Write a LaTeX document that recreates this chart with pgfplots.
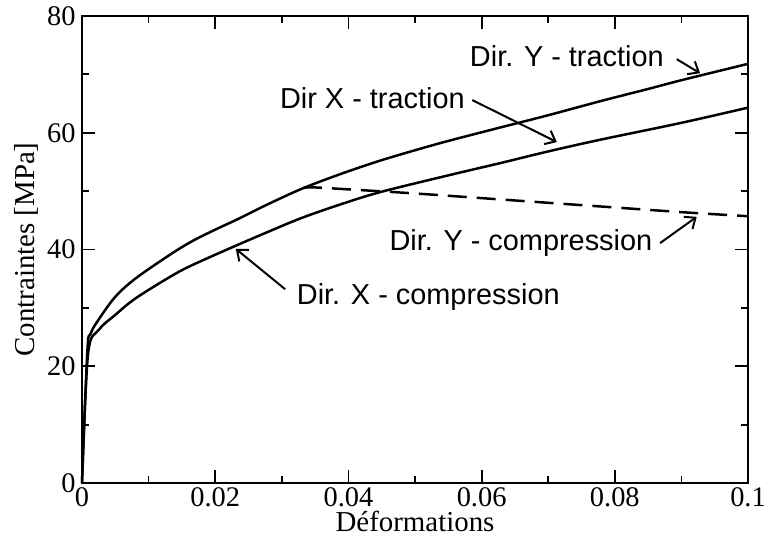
\documentclass[border=0pt]{standalone}
\usepackage{pgfplots}
\pgfplotsset{compat=1.18}
\usepackage{fontspec}
\setmainfont{Liberation Serif}
\newfontfamily\annfont{Liberation Sans}
\usetikzlibrary{arrows.meta}
\begin{document}
\begin{tikzpicture}
\useasboundingbox (-82bp,-61bp) rectangle (686bp,483bp);
\begin{axis}[
  at={(0,0)}, anchor=south west,
  scale only axis, width=666bp, height=467bp,
  xmin=0, xmax=0.1, ymin=0, ymax=80,
  xtick={0,0.02,0.04,0.06,0.08,0.1},
  xticklabels={0,0.02,0.04,0.06,0.08,0.1},
  ytick={0,20,40,60,80},
  minor x tick num=1, minor y tick num=1,
  tick pos=both, tick align=inside,
  major tick length=13bp, minor tick length=7bp,
  every tick/.style={line width=1.8pt, black},
  axis line style={line width=2.2pt},
  /pgf/number format/assume math mode=true,
  tick label style={font=\fontsize{28.5}{30}\selectfont},
  xticklabel style={yshift=-1bp},
  yticklabel style={xshift=-3bp},
  label style={font=\fontsize{29}{32}\selectfont},
  xlabel={Déformations},
  ylabel={Contraintes [MPa]},
  xlabel style={yshift=2bp},
  ylabel style={yshift=2bp},
  clip=false,
]
% Dir. Y - traction
\addplot[black, line width=2.5pt, smooth, tension=0.55] coordinates {
(0,0) (0.0008,22.5) (0.0013,25.6) (0.0025,28.0) (0.005,31.9) (0.008,35.0)
(0.0132,39.1) (0.0165,41.4) (0.02,43.4) (0.0232,45.1) (0.028,47.8)
(0.0332,50.5) (0.039,53.0) (0.0447,55.2) (0.05,57.0) (0.055,58.6)
(0.0628,60.9) (0.07,63.0) (0.0778,65.4) (0.085,67.5) (0.09,69.0) (0.1,71.8)
};
% Dir X - traction
\addplot[black, line width=2.5pt, smooth, tension=0.55] coordinates {
(0,0) (0.0009,22.0) (0.0025,26.2) (0.005,28.8) (0.008,31.6) (0.0132,35.3)
(0.0165,37.3) (0.0232,40.7) (0.0285,43.3) (0.0332,45.5) (0.039,47.8)
(0.045,49.9) (0.055,52.7) (0.0628,54.8) (0.07,56.8) (0.0778,58.8)
(0.09,61.7) (0.1,64.3)
};
% Dir. Y - compression
\addplot[black, line width=2.5pt, smooth, tension=0.55, dash pattern=on 19bp off 10bp] coordinates {
(0.0332,50.5) (0.0345,50.65) (0.04,50.3) (0.05,49.6) (0.06,48.8)
(0.07,48.0) (0.08,47.2) (0.09,46.4) (0.1,45.7)
};
% annotations
\begin{scope}[font=\annfont\fontsize{29}{32}\selectfont]
\node at (axis cs:0.0728,73.1) {Dir. Y - traction};
\node at (axis cs:0.0436,66.0) {Dir X - traction};
\node at (axis cs:0.0659,41.1) {Dir. Y - compression};
\node at (axis cs:0.0520,31.9) {Dir. X - compression};
\end{scope}
\begin{scope}[line width=2pt, -{Straight Barb[length=9bp,width=15bp]}]
\draw (axis cs:0.0893,72.6) -- (axis cs:0.0928,70.2);
\draw (axis cs:0.0586,65.6) -- (axis cs:0.0713,58.4);
\draw (axis cs:0.0868,41.1) -- (axis cs:0.0923,45.6);
\draw (axis cs:0.0305,33.2) -- (axis cs:0.0231,40.1);
\end{scope}
\end{axis}
\end{tikzpicture}
\end{document}
